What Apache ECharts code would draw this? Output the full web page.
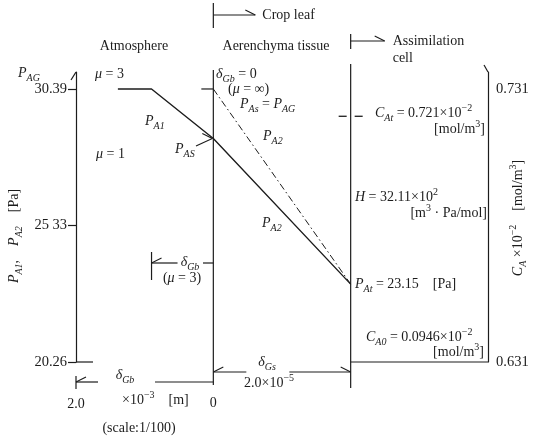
<!DOCTYPE html>
<html>
<head>
<meta charset="utf-8">
<script src="https://cdn.jsdelivr.net/npm/echarts@6/dist/echarts.min.js"></script>
<style>
  html, body { margin: 0; padding: 0; background: #fff; }
  #chart { width: 533px; height: 440px; }
</style>
</head>
<body>
<div id="chart"></div>
<script>
// CO2 partial pressure through the leaf boundary layer and aerenchyma tissue.
// Distance axis is in drawn units of 10^-5 m (atmosphere side at scale 1/100).
const boundaryX = [-2.0, 0, 2.0];            // outer edge of δGb, leaf surface, assimilation cell wall
const concAxisX = 4.0;                        // where the C_A axis stands
const profileX = [-1.39, -0.9, 0, 2.0];       // solid profile (μ = 3 boundary layer, then tissue)
const profileP = [30.39, 30.39, 28.55, 23.15];
const idealX = [0, 2.0];                      // δGb = 0 (μ = ∞) profile
const idealP = [30.39, 23.15];
const pTicks = [20.26, 25.33, 30.39];
const pTickLabels = ['20.26', '25 33', '30.39'];
const cTicks = [0.631, 0.731];
const cTickLabels = ['0.631', '0.731'];
const cAt = 0.721;
const distanceLabels = ['2.0', '0'];

const F = 'Liberation Serif';
const INK = '#1c1c1c';
const pMin = 20.26, pMax = 31.02;
const cMin = cTicks[0];
const cMax = cMin + (cTicks[1] - cTicks[0]) * (pMax - pMin) / (pTicks[2] - pTicks[0]);

const chart = echarts.init(document.getElementById('chart'), null, { renderer: 'canvas' });

const pick = (ticks, labels) => v => {
  let best = 0;
  ticks.forEach((t, i) => { if (Math.abs(t - v) < Math.abs(ticks[best] - v)) best = i; });
  return labels[best];
};

chart.setOption({
  animation: false,
  grid: { left: 76, right: 45, top: 72, bottom: 78 },
  xAxis: { type: 'value', min: -2, max: concAxisX, show: false },
  yAxis: [
    {
      type: 'value', min: pMin, max: pMax, position: 'left',
      splitLine: { show: false },
      axisLine: { show: true, onZero: false, lineStyle: { color: INK, width: 1.2 } },
      axisTick: { show: true, customValues: pTicks, length: 8, lineStyle: { color: INK, width: 1.2 } },
      axisLabel: { customValues: pTicks, formatter: pick(pTicks, pTickLabels), margin: 9,
                   color: INK, fontFamily: F, fontSize: 14.5 }
    },
    {
      type: 'value', min: cMin, max: cMax, position: 'right',
      splitLine: { show: false },
      axisLine: { show: true, onZero: false, lineStyle: { color: INK, width: 1.2 } },
      axisTick: { show: false },
      axisLabel: { customValues: cTicks, formatter: pick(cTicks, cTickLabels), margin: 8,
                   color: INK, fontFamily: F, fontSize: 14.5 }
    }
  ],
  series: [
    {
      name: 'P_A1, P_A2', type: 'line', symbol: 'none', clip: false,
      data: profileX.map((x, i) => [x, profileP[i]]),
      lineStyle: { color: INK, width: 1.4 }
    },
    {
      name: 'P_As = P_AG', type: 'line', symbol: 'none', clip: false,
      data: idealX.map((x, i) => [x, idealP[i]]),
      lineStyle: { color: INK, width: 1, type: [7, 3, 1.5, 3] }
    }
  ]
});

// ---- annotations -------------------------------------------------------
const xPix = v => chart.convertToPixel({ xAxisIndex: 0 }, v);
const pPix = v => chart.convertToPixel({ yAxisIndex: 0 }, v);
const cPix = v => chart.convertToPixel({ yAxisIndex: 1 }, v);

const rich = {
  n: { fontFamily: F, fontSize: 14, fill: INK, lineHeight: 20 },
  i: { fontFamily: F, fontSize: 14, fontStyle: 'italic', fill: INK, lineHeight: 20 },
  s: { fontFamily: F, fontSize: 10, fontStyle: 'italic', fill: INK, lineHeight: 11, verticalAlign: 'bottom' },
  u: { fontFamily: F, fontSize: 10, fill: INK, lineHeight: 11, verticalAlign: 'top' }
};

const els = [];
const seg = (x1, y1, x2, y2, w) => els.push({
  type: 'line', shape: { x1, y1, x2, y2 }, style: { stroke: INK, lineWidth: w || 1.2 }, silent: true, z: 100
});
// half arrow head (upper barb) ending at (x, y), pointing in direction dir (+1 right, -1 left)
const head = (x, y, dir) => seg(x - dir * 10, y - 5, x, y, 1.1);
const txt = (x, y, text, align, rot) => els.push({
  type: 'text', x, y, rotation: rot || 0, silent: true,
  style: { text, x: 0, y: 0, align: align || 'left', verticalAlign: 'middle', rich,
           fontFamily: F, fontSize: 14, fill: INK }
});

const xA = xPix(boundaryX[0]), x0 = xPix(boundaryX[1]), x2 = xPix(boundaryX[2]), x4 = xPix(concAxisX);
const yTop = pPix(pTicks[2]), yBot = pPix(pTicks[0]);

// region headers
seg(x0, 3, x0, 28); seg(x0, 15, x0 + 42, 15); head(x0 + 42, 15, 1);
txt(x0 + 49, 15, '{n|Crop leaf}');
txt(134, 46, '{n|Atmosphere}', 'center');
txt(276, 46, '{n|Aerenchyma tissue}', 'center');
seg(x2, 34, x2, 49); seg(x2, 41, x2 + 34, 41); head(x2 + 34, 41, 1);
txt(x2 + 42, 41, '{n|Assimilation}');
txt(x2 + 42, 58, '{n|cell}');

// boundaries
seg(x0, 70, x0, 385);
seg(x2, 64, x2, 388);
seg(x0 - 12, yTop, x0, yTop);                // P_AG mark on the leaf surface
seg(xA, yBot, xA + 17, yBot);                // foot of the pressure axis
seg(x2, yBot, x4, yBot);                     // foot of the concentration axis
seg(xA - 5, 80, xA, 72);                     // axis tips
seg(x4 - 4, 65, x4, 72);

// C_At level marked across the cell wall
const yAt = cPix(cAt);
seg(x2 - 12, yAt, x2 - 4, yAt, 1.3);
seg(x2 + 4, yAt, x2 + 12, yAt, 1.3);

// pressure axis name
txt(14, 236, '{i|P}{s|A1}{n|,    }{i|P}{s|A2}{n|    [Pa]}', 'center', Math.PI / 2);
// concentration axis name
txt(518, 218, '{i|C}{s|A}{n| ×10}{u|−2}{n|    [mol/m}{u|3}{n|]}', 'center', Math.PI / 2);

// atmosphere side
txt(18, 73, '{i|P}{s|AG}');
txt(95, 74, '{i|μ}{n| = 3}');
txt(145, 121, '{i|P}{s|A1}');
txt(96, 154, '{i|μ}{n| = 1}');
txt(175, 149, '{i|P}{s|AS}');
seg(196, 146, x0 - 1, pPix(profileP[2]), 1.1); head(x0 - 1, pPix(profileP[2]), 1);

// δGb for μ = 3
const xb = xPix(profileX[1]);
seg(xb, 252, xb, 280); seg(xb, 263, xb + 26, 263); head(xb, 263, -1);
txt(190, 262, '{i|δ}{s|Gb}', 'center');
seg(203, 263, x0, 263);
txt(182, 278, '{n|(}{i|μ}{n| = 3)}', 'center');

// tissue side
txt(216, 74, '{i|δ}{s|Gb}{n| = 0}');
txt(228, 89, '{n|(}{i|μ}{n| = ∞)}');
txt(240, 104, '{i|P}{s|As}{n| = }{i|P}{s|AG}');
txt(263, 136, '{i|P}{s|A2}');
txt(262, 223, '{i|P}{s|A2}');

// assimilation cell
txt(375, 113, '{i|C}{s|At}{n| = 0.721×10}{u|−2}');
txt(485, 129, '{n|[mol/m}{u|3}{n|]}', 'right');
txt(355, 197, '{i|H}{n| = 32.11×10}{u|2}');
txt(487, 213, '{n|[m}{u|3}{n| · Pa/mol]}', 'right');
txt(355, pPix(profileP[3]), '{i|P}{s|At}{n| = 23.15    [Pa]}');
txt(366, 337, '{i|C}{s|A0}{n| = 0.0946×10}{u|−2}');
txt(484, 352, '{n|[mol/m}{u|3}{n|]}', 'right');

// distance scale
seg(xA, 376, xA, 389); seg(xA, 382, xA + 22, 382); head(xA, 382, -1);
txt(125, 375, '{i|δ}{s|Gb}', 'center');
seg(155, 382, x0, 382);
seg(x0, 372, x0 + 33, 372); head(x0, 372, -1);
seg(x0 + 76, 372, x2, 372); head(x2, 372, 1);
txt(267, 362, '{i|δ}{s|Gs}', 'center');
txt(269, 383, '{n|2.0×10}{u|−5}', 'center');
txt(xA, 404, '{n|' + distanceLabels[0] + '}', 'center');
txt(x0, 403, '{n|' + distanceLabels[1] + '}', 'center');
txt(122, 400, '{n|×10}{u|−3}{n|    [m]}');
txt(139, 428, '{n|(scale:1/100)}', 'center');

chart.setOption({ graphic: { elements: els } });
</script>
</body>
</html>
